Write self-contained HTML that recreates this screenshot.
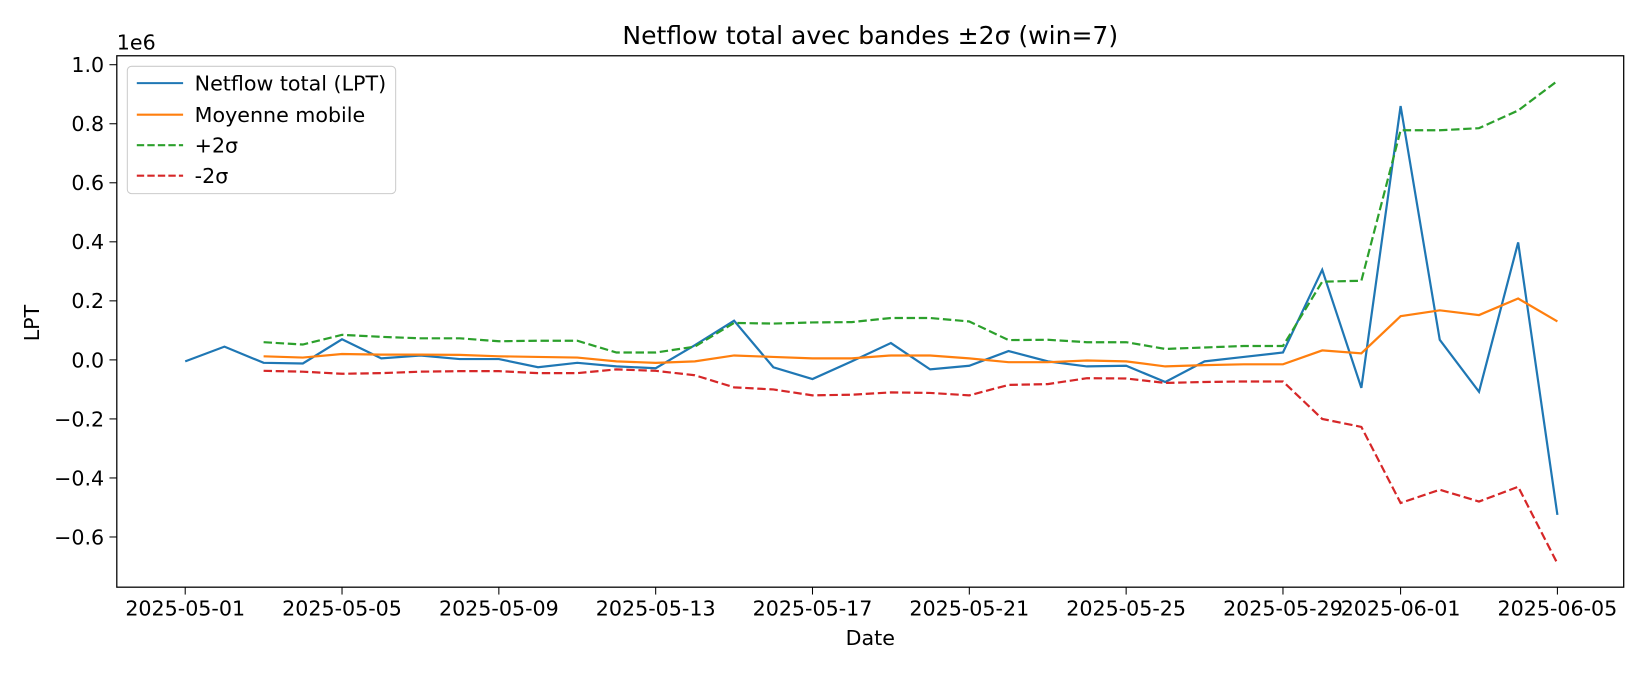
<!DOCTYPE html>
<html><head><meta charset="utf-8"><style>
body{margin:0;background:#fff;}
svg text{font-family:"DejaVu Sans","Liberation Sans",sans-serif;fill:#000;}
</style></head><body>
<svg id="chart" width="1650" height="675" xmlns="http://www.w3.org/2000/svg">
<rect width="1650" height="675" fill="#fff"/>
<g transform="scale(1.0523)">
<text x="827" y="42" font-size="23.8" text-anchor="middle">Netflow total avec bandes ±2σ (win=7)</text>
<g id="axes"></g>
<g id="series"></g>
<rect x="111" y="53" width="1432" height="505" fill="none" stroke="#000" stroke-width="1.2"/>
<g>
<rect x="121" y="63" width="255" height="121" rx="4" fill="#fff" fill-opacity="0.8" stroke="#ccc"/>
<line x1="130" y1="79" x2="174" y2="79" stroke="#1f77b4" stroke-width="2"/>
<text x="185" y="86" font-size="19.6">Netflow total (LPT)</text>
<line x1="130" y1="109" x2="174" y2="109" stroke="#ff7f0e" stroke-width="2"/>
<text x="185" y="116" font-size="19.6">Moyenne mobile</text>
<line x1="130" y1="138" x2="174" y2="138" stroke="#2ca02c" stroke-width="2" stroke-dasharray="7,3"/>
<text x="185" y="145" font-size="19.6">+2σ</text>
<line x1="130" y1="167" x2="174" y2="167" stroke="#d62728" stroke-width="2" stroke-dasharray="7,3"/>
<text x="185" y="174" font-size="19.6">-2σ</text>
</g>
<text transform="translate(37,307) rotate(-90)" font-size="19.6" text-anchor="middle">LPT</text>
<text x="827" y="613" font-size="19.6" text-anchor="middle">Date</text>
<text x="111" y="47" font-size="19.6">1e6</text>
</g>
</svg>
<script>
const netflow=[-0.005,0.045,-0.01,-0.012,0.07,0.005,0.015,0.003,0.003,-0.025,-0.01,-0.022,-0.028,0.05,0.133,-0.025,-0.065,-0.005,0.057,-0.032,-0.02,0.03,-0.005,-0.022,-0.02,-0.075,-0.005,0.01,0.025,0.305,-0.095,0.86,0.068,-0.108,0.398,-0.525];
const moyenne=[null,null,0.012,0.008,0.02,0.018,0.018,0.017,0.012,0.01,0.008,-0.005,-0.01,-0.005,0.015,0.01,0.005,0.005,0.015,0.015,0.005,-0.008,-0.008,-0.002,-0.005,-0.022,-0.018,-0.015,-0.015,0.032,0.022,0.148,0.168,0.152,0.208,0.13];
const upper=[null,null,0.06,0.052,0.085,0.078,0.073,0.073,0.063,0.065,0.065,0.025,0.025,0.045,0.125,0.123,0.127,0.128,0.142,0.142,0.13,0.067,0.068,0.06,0.06,0.037,0.042,0.047,0.047,0.265,0.268,0.778,0.778,0.785,0.845,0.945];
const lower=[null,null,-0.037,-0.04,-0.047,-0.045,-0.04,-0.038,-0.038,-0.045,-0.045,-0.032,-0.037,-0.052,-0.093,-0.1,-0.12,-0.118,-0.11,-0.112,-0.12,-0.085,-0.082,-0.062,-0.063,-0.078,-0.075,-0.073,-0.073,-0.2,-0.227,-0.485,-0.44,-0.48,-0.43,-0.69];
const yTicks=[-0.6,-0.4,-0.2,0.0,0.2,0.4,0.6,0.8,1.0];
const xTickDays=[0,4,8,12,16,20,24,28,31,35];
const xTickLabels=["2025-05-01","2025-05-05","2025-05-09","2025-05-13","2025-05-17","2025-05-21","2025-05-25","2025-05-29","2025-06-01","2025-06-05"];
const NS="http://www.w3.org/2000/svg";
function xs(d){return 176+d*(1304/35);}
function ys(v){return 342-v*280.5;}
const axes=document.getElementById('axes'),ser=document.getElementById('series');
yTicks.forEach(v=>{
 const l=document.createElementNS(NS,'line');
 
 
 l.setAttribute('x1',104);l.setAttribute('x2',111);l.setAttribute('y1',ys(v));l.setAttribute('y2',ys(v));l.setAttribute('stroke','#000');
 axes.appendChild(l);
 const t=document.createElementNS(NS,'text');
 
 
 t.setAttribute('x',99);t.setAttribute('y',ys(v)+7);t.setAttribute('font-size','19.6');t.setAttribute('text-anchor','end');
 t.textContent=(v<0?'−':'')+Math.abs(v).toFixed(1);
 axes.appendChild(t);
});
xTickDays.forEach((d,i)=>{
 const l=document.createElementNS(NS,'line');
 
 
 l.setAttribute('x1',xs(d));l.setAttribute('x2',xs(d));l.setAttribute('y1',558);l.setAttribute('y2',565);l.setAttribute('stroke','#000');
 axes.appendChild(l);
 const t=document.createElementNS(NS,'text');
 
 
 t.setAttribute('x',xs(d));t.setAttribute('y',585);t.setAttribute('font-size','19.6');t.setAttribute('text-anchor','middle');
 t.textContent=xTickLabels[i];
 axes.appendChild(t);
});
function line(arr,color,dash,name){
 let pts=[];arr.forEach((v,i)=>{if(v!==null)pts.push(xs(i).toFixed(1)+','+ys(v).toFixed(1));});
 const p=document.createElementNS(NS,'polyline');
 
 
 p.setAttribute('points',pts.join(' '));p.setAttribute('fill','none');p.setAttribute('stroke',color);p.setAttribute('stroke-width','2.1');
 if(dash)p.setAttribute('stroke-dasharray','8,3.5');
 ser.appendChild(p);
}
line(netflow,'#1f77b4',false,'netflow-line');
line(moyenne,'#ff7f0e',false,'moyenne-line');
line(upper,'#2ca02c',true,'upper-band-line');
line(lower,'#d62728',true,'lower-band-line');
</script>
</body></html>
